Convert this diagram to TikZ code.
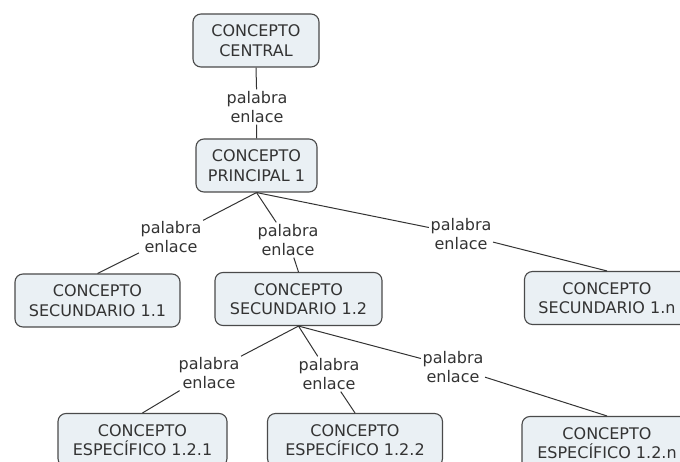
\documentclass[tikz,border=0pt]{standalone}
\usepackage{fontspec}
\setmainfont{DejaVu Sans}
\definecolor{boxfill}{HTML}{EAF0F4}
\definecolor{boxdraw}{HTML}{4A4A4A}
\definecolor{linecol}{HTML}{333333}
\definecolor{txtcol}{HTML}{333333}
\begin{document}
\begin{tikzpicture}[x=1pt,y=-1pt,
  concept/.style={draw=boxdraw,line width=1.1pt,fill=boxfill,rounded corners=8pt,
    align=center,text=txtcol,minimum height=53pt,inner sep=0pt,
    font=\fontsize{16}{19.5}\selectfont},
  link/.style={align=center,text=txtcol,inner sep=1.5pt,
    font=\fontsize{16}{19.5}\selectfont},
  conn/.style={draw=linecol,line width=1pt}]
\useasboundingbox (0,0) rectangle (680,462);
\begin{scope}
\clip (0,0) rectangle (680,462);
\node[concept,minimum width=126pt] (central) at (256,40.5) {CONCEPTO\\CENTRAL};
\node[link] (l0) at (257,107) {palabra\\enlace};
\node[concept,minimum width=121pt] (principal) at (256.5,165.5) {CONCEPTO\\PRINCIPAL 1};
\node[link] (l1) at (171,237) {palabra\\enlace};
\node[link] (l2) at (288,240) {palabra\\enlace};
\node[link] (l3) at (461,234) {palabra\\enlace};
\node[concept,minimum width=165pt] (s11) at (97.5,300.5) {CONCEPTO\\SECUNDARIO 1.1};
\node[concept,minimum width=167pt] (s12) at (298.5,299) {CONCEPTO\\SECUNDARIO 1.2};
\node[concept,minimum width=165pt] (s1n) at (607,298) {CONCEPTO\\SECUNDARIO 1.n};
\node[link] (l4) at (209,373) {palabra\\enlace};
\node[link] (l5) at (329,374) {palabra\\enlace};
\node[link] (l6) at (453,367) {palabra\\enlace};
\node[concept,minimum width=169pt] (e121) at (142.5,440) {CONCEPTO\\ESPECÍFICO 1.2.1};
\node[concept,minimum width=175pt] (e122) at (355,440) {CONCEPTO\\ESPECÍFICO 1.2.2};
\node[concept,minimum width=170pt] (e12n) at (607,443) {CONCEPTO\\ESPECÍFICO 1.2.n};
\draw[conn] (central.south) -- (l0);
\draw[conn] (l0) -- (principal.north);
\draw[conn] (principal.south) -- (l1);
\draw[conn] (principal.south) -- (l2);
\draw[conn] (principal.south) -- (l3);
\draw[conn] (l1) -- (s11.north);
\draw[conn] (l2) -- (s12.north);
\draw[conn] (l3) -- (s1n.north);
\draw[conn] (s12.south) -- (l4);
\draw[conn] (s12.south) -- (l5);
\draw[conn] (s12.south) -- (l6);
\draw[conn] (l4) -- (e121.north);
\draw[conn] (l5) -- (e122.north);
\draw[conn] (l6) -- (e12n.north);
\end{scope}
\end{tikzpicture}
\end{document}
